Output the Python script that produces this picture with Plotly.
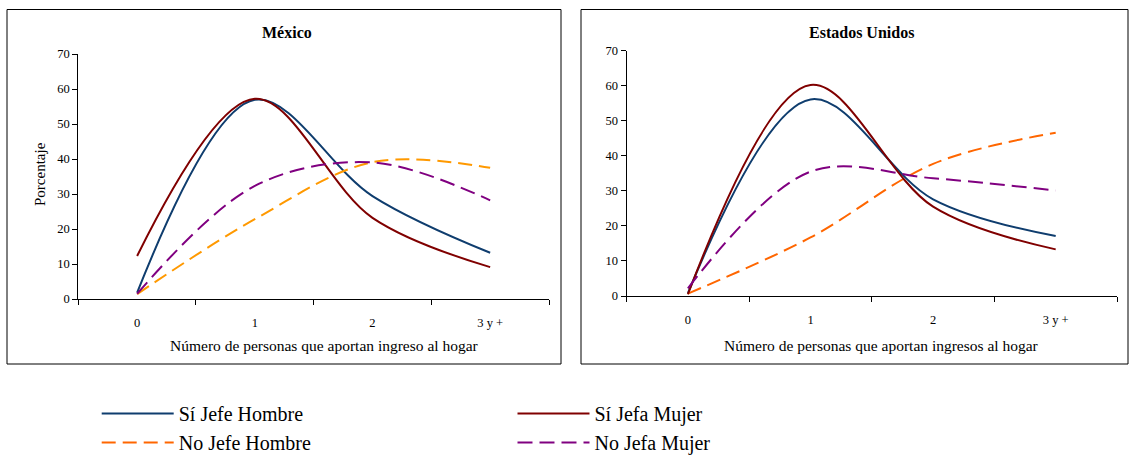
import plotly.graph_objects as go

W, H = 1132, 456

categories = [0, 1, 2, 3]
tick_labels = ["0", "1", "2", "3 y +"]

# México
mx_si_jefe_hombre = [1.8, 56.9, 29.4, 13.2]
mx_si_jefa_mujer = [12.3, 57.2, 23.2, 9.1]
mx_no_jefe_hombre = [1.4, 22.8, 39.1, 37.5]
mx_no_jefa_mujer = [1.5, 32.3, 39.0, 28.2]

# Estados Unidos
us_si_jefe_hombre = [0.8, 56.1, 27.6, 17.1]
us_si_jefa_mujer = [0.5, 60.2, 25.5, 13.3]
us_no_jefe_hombre = [0.7, 16.7, 37.7, 46.6]
us_no_jefa_mujer = [2.2, 35.5, 33.6, 30.1]

BLUE = "#0f3d6e"
RED = "#800000"
ORANGE_MX = "#ff9900"
ORANGE_US = "#ff6600"
PURPLE = "#800080"
FONT = "Liberation Serif"

fig = go.Figure()


def add(x, y, name, color, dash, xa, ya, show, legend):
    fig.add_trace(go.Scatter(
        x=x, y=y, name=name, mode="lines",
        line=dict(color=color, width=2, dash=dash, shape="spline"),
        xaxis=xa, yaxis=ya, showlegend=show, legend=legend,
        legendgroup=name,
    ))


add(categories, mx_si_jefe_hombre, "Sí Jefe Hombre", BLUE, "solid", "x", "y", False, "legend")
add(categories, mx_si_jefa_mujer, "Sí Jefa Mujer", RED, "solid", "x", "y", False, "legend2")
add(categories, mx_no_jefe_hombre, "No Jefe Hombre", ORANGE_MX, "14px,7px", "x", "y", False, "legend")
add(categories, mx_no_jefa_mujer, "No Jefa Mujer", PURPLE, "15px,7px", "x", "y", False, "legend2")

add(categories, us_si_jefe_hombre, "Sí Jefe Hombre", BLUE, "solid", "x2", "y2", True, "legend")
add(categories, us_no_jefe_hombre, "No Jefe Hombre", ORANGE_US, "14px,7px", "x2", "y2", True, "legend")
add(categories, us_si_jefa_mujer, "Sí Jefa Mujer", RED, "solid", "x2", "y2", True, "legend2")
add(categories, us_no_jefa_mujer, "No Jefa Mujer", PURPLE, "15px,7px", "x2", "y2", True, "legend2")


def px_x(v):
    return v / W


def px_y(v):
    return (H - v) / H


xaxis_common = dict(
    range=[-0.5, 3.5], tickvals=categories, ticktext=tick_labels,
    ticks="", showline=True, linecolor="black", linewidth=1,
    showgrid=False, zeroline=False, fixedrange=True, automargin=False,
    tickfont=dict(family=FONT, size=12.5, color="black"),
    ticklabelstandoff=12,
    minor=dict(ticks="outside", tick0=-0.5, dtick=1, ticklen=5,
               tickcolor="black", tickwidth=1, showgrid=False),
)
yaxis_common = dict(
    range=[0, 70], dtick=10, ticks="outside", ticklen=5, tickcolor="black",
    showline=True, linecolor="black", linewidth=1, showgrid=False,
    zeroline=False, fixedrange=True, automargin=False,
    tickfont=dict(family=FONT, size=12.5, color="black"),
)

legend_common = dict(
    xanchor="left", yanchor="top", orientation="v", itemwidth=72,
    tracegroupgap=0, font=dict(family=FONT, size=20, color="black"),
    bgcolor="rgba(0,0,0,0)",
)

fig.update_layout(
    width=W, height=H,
    margin=dict(l=0, r=0, t=0, b=0, autoexpand=False),
    paper_bgcolor="white", plot_bgcolor="white",
    font=dict(family=FONT, color="black"),
    xaxis=dict(domain=[px_x(78.3), px_x(549)], anchor="y", **xaxis_common),
    yaxis=dict(domain=[px_y(299), px_y(54)], anchor="x", **yaxis_common),
    xaxis2=dict(domain=[px_x(626.6), px_x(1117)], anchor="y2", **xaxis_common),
    yaxis2=dict(domain=[px_y(296), px_y(50.7)], anchor="x2", **yaxis_common),
    legend=dict(x=px_x(96.7), y=px_y(394), **legend_common),
    legend2=dict(x=px_x(512.5), y=px_y(394), **legend_common),
)

# panel borders
for x0, x1 in [(7, 561), (581, 1128)]:
    fig.add_shape(type="rect", xref="paper", yref="paper",
                  x0=px_x(x0), x1=px_x(x1), y0=px_y(364), y1=px_y(9.5),
                  line=dict(color="black", width=1), fillcolor="rgba(0,0,0,0)",
                  layer="below")

ann = [
    dict(text="<b>México</b>", x=px_x(287), y=px_y(33), size=16, angle=0),
    dict(text="<b>Estados Unidos</b>", x=px_x(861), y=px_y(33), size=16, angle=0),
    dict(text="Número de personas que aportan ingreso al hogar", x=px_x(324.5), y=px_y(345), size=15.5, angle=0),
    dict(text="Número de personas que aportan ingresos al hogar", x=px_x(881), y=px_y(345), size=15.5, angle=0),
    dict(text="Porcentaje", x=px_x(40), y=px_y(174), size=15, angle=-90),
]
for a in ann:
    fig.add_annotation(text=a["text"], x=a["x"], y=a["y"], xref="paper", yref="paper",
                       xanchor="center", yanchor="middle", showarrow=False,
                       textangle=a["angle"],
                       font=dict(family=FONT, size=a["size"], color="black"))

# remove the browser's default 8px body margin so the figure fills the page
fig.write_html("out.html", config={"displayModeBar": False},
               post_script="document.body.style.margin='0';")
